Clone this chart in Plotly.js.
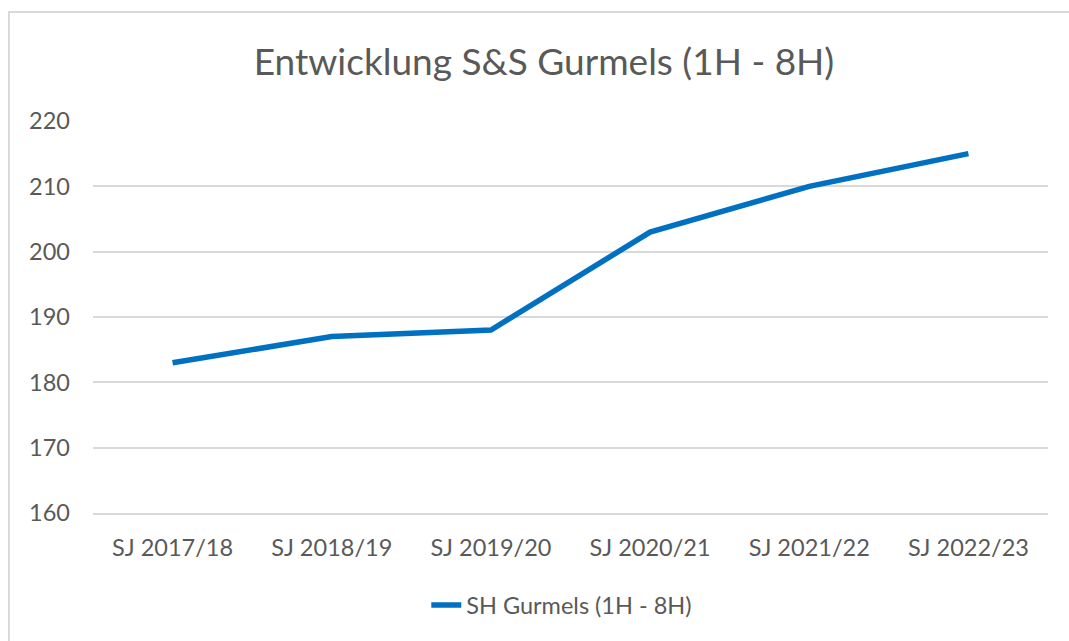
<!DOCTYPE html>
<html>
<head>
<meta charset="utf-8">
<script src="https://cdn.plot.ly/plotly-3.0.1.min.js"></script>
<style>html,body{margin:0;padding:0;background:#fff;}#chart{width:1069px;height:641px;}</style>
</head>
<body>
<div id="chart"></div>
<script>
const categories = ["SJ 2017/18", "SJ 2018/19", "SJ 2019/20", "SJ 2020/21", "SJ 2021/22", "SJ 2022/23"];
const seriesName = "SH Gurmels (1H - 8H)";
const values = [183, 187, 188, 203, 210, 215];
const yTicks = [160, 170, 180, 190, 200, 210, 220];
const chartTitle = "Entwicklung S&S Gurmels (1H - 8H)";

const FONT = "Lato, 'Open Sans', sans-serif";
const TXT = "#595959";

const data = [{
  type: "scatter",
  mode: "lines",
  x: categories,
  y: values,
  name: seriesName,
  line: {color: "#0070C0", width: 5.5, shape: "linear"},
  hoverinfo: "x+y"
}];

const layout = {
  width: 1069,
  height: 641,
  margin: {l: 93, r: 21, t: 121, b: 128},
  paper_bgcolor: "#ffffff",
  plot_bgcolor: "#ffffff",
  font: {family: FONT, color: TXT, size: 23.5},
  title: {
    text: chartTitle,
    font: {family: FONT, size: 37, color: TXT},
    x: 544 / 1069, xanchor: "center", xref: "container",
    y: 1 - 62 / 641, yanchor: "middle", yref: "container"
  },
  xaxis: {
    type: "category",
    range: [-0.5, 5.5],
    showgrid: false,
    showline: true,
    linecolor: "#d9d9d9",
    linewidth: 1.5,
    ticks: "",
    ticklabelstandoff: 13,
    tickfont: {family: FONT, size: 23.5, color: TXT},
    zeroline: false,
    fixedrange: true
  },
  yaxis: {
    range: [160, 220],
    tickvals: yTicks,
    ticktext: yTicks.map(String),
    showgrid: true,
    gridcolor: "#d9d9d9",
    gridwidth: 1.5,
    showline: false,
    zeroline: false,
    ticks: "",
    ticklabelstandoff: 22,
    tickfont: {family: FONT, size: 23.5, color: TXT},
    fixedrange: true
  },
  showlegend: true,
  legend: {
    orientation: "h",
    x: 0.349, xanchor: "left", xref: "paper",
    y: -0.235, yanchor: "middle", yref: "paper",
    font: {family: FONT, size: 23.5, color: TXT},
    bgcolor: "rgba(0,0,0,0)"
  },
  shapes: [{
    type: "rect",
    xref: "paper", yref: "paper",
    x0: (9 - 93) / 955, x1: 1.2,
    y0: -0.5, y1: (513 - 12) / 392,
    line: {color: "#d9d9d9", width: 2},
    fillcolor: "rgba(0,0,0,0)",
    layer: "below"
  }]
};

Plotly.newPlot("chart", data, layout, {displayModeBar: false, staticPlot: false});
</script>
</body>
</html>
